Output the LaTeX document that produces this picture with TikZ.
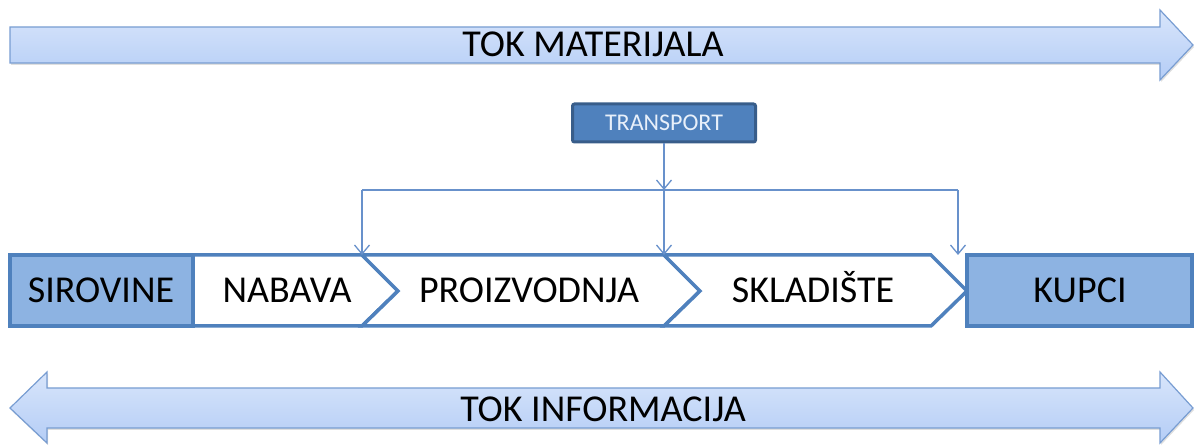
\documentclass[tikz,border=0pt]{standalone}
\usepackage{fontspec}
\setmainfont{Carlito}
\usetikzlibrary{arrows.meta,shadows}

\definecolor{flowtop}{RGB}{216,229,251}
\definecolor{flowbot}{RGB}{180,205,246}
\definecolor{flowline}{RGB}{120,157,210}
\definecolor{chainline}{RGB}{79,129,189}
\definecolor{chainfill}{RGB}{141,179,226}
\definecolor{transfill}{RGB}{79,129,189}
\definecolor{transline}{RGB}{56,93,138}
\definecolor{linkline}{RGB}{104,145,203}

\begin{document}
\begin{tikzpicture}[x=1pt,y=-1pt,
    flowarrow/.style={draw=flowline,line width=1.2pt,top color=flowtop,bottom color=flowbot,
      drop shadow={opacity=0.25,shadow xshift=1pt,shadow yshift=-2pt}},
    chainpart/.style={draw=chainline,line width=3.5pt,line join=miter},
    biglabel/.style={font=\fontsize{38}{40}\selectfont,text=black,inner sep=0pt,
      text height=24pt,text depth=0pt},
    link/.style={draw=linkline,line width=1.3pt}]
    \useasboundingbox (0,0) rectangle (1195,446);
    %% Draw the flow arrows
    \path[flowarrow] (10,27) -- (1160,27) -- (1160,10) -- (1193,45) -- (1160,80)
      -- (1160,63) -- (10,63) -- cycle;
    \path[flowarrow] (10,408) -- (47,372) -- (47,388) -- (1160,388) -- (1160,372)
      -- (1193,408) -- (1160,443) -- (1160,428) -- (47,428) -- (47,443) -- cycle;
    \node[biglabel] (matflow) at (593,45) {TOK MATERIJALA};
    \node[biglabel] (infoflow) at (603,409) {TOK INFORMACIJA};
    %% Draw the chain
    \path[chainpart,fill=chainfill] (10,255) rectangle (193,326);
    \path[chainpart,fill=white] (193,255) -- (362,255) -- (398,291) -- (362,326)
      -- (193,326) -- cycle;
    \path[chainpart,fill=white] (362,255) -- (664,255) -- (700,291) -- (664,326)
      -- (362,326) -- (398,291) -- cycle;
    \path[chainpart,fill=white] (664,255) -- (931,255) -- (967,291) -- (931,326)
      -- (664,326) -- (700,291) -- cycle;
    \path[chainpart,fill=chainfill] (967,255) rectangle (1192,326);
    \node[biglabel] (sirovine) at (101,291) {SIROVINE};
    \node[biglabel] (nabava) at (287,291) {NABAVA};
    \node[biglabel] (proizvodnja) at (529,291) {PROIZVODNJA};
    \node[biglabel] (skladiste) at (813,291) {SKLADIŠTE};
    \node[biglabel] (kupci) at (1080,291) {KUPCI};
    %% Draw the transport box
    \node[draw=transline,line width=3pt,fill=transfill,rounded corners=2pt,
      minimum width=183pt,minimum height=38pt,inner sep=0pt,
      text={rgb,255:red,232;green,240;blue,250},font=\fontsize{24}{26}\selectfont]
      (transport) at (664,123) {TRANSPORT};
    \coordinate (busL) at (362,190);
    \coordinate (busM) at (664,190);
    \coordinate (busR) at (958,190);
    \coordinate (nabend) at (362,255);
    \coordinate (proend) at (664,255);
    \coordinate (skend) at (958,255);
    %% Draw the edges
    \begin{scope}[every path/.style={link},-{Straight Barb[length=9pt,width=15pt]}]
      \draw[-] (busL) -- (busR);
      \draw (transport.south) -- (busM);
      \draw (busM) -- (proend);
      \draw (busL) -- (nabend);
      \draw (busR) -- (skend);
    \end{scope}
\end{tikzpicture}
\end{document}
